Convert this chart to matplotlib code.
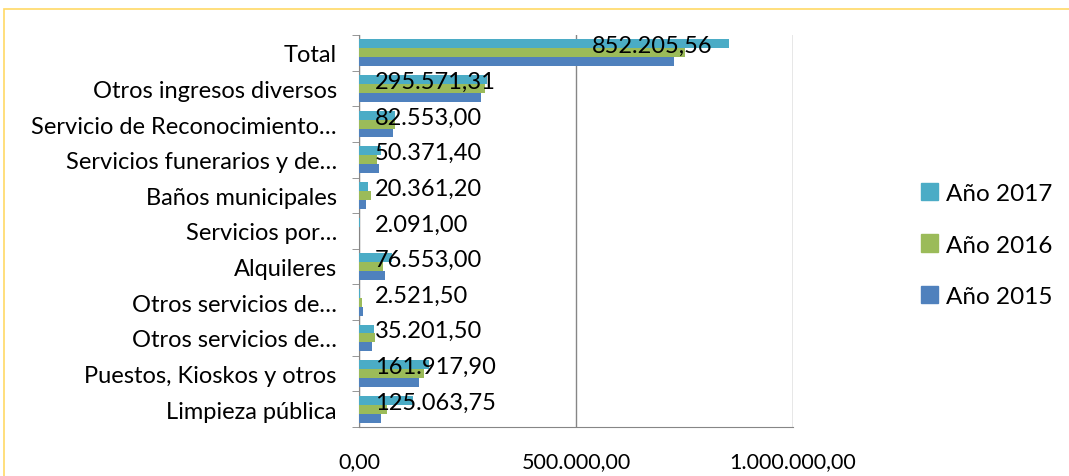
import matplotlib.pyplot as plt
import matplotlib.patches as mpatches
import numpy as np

categorias = ["Total", "Otros ingresos diversos", "Servicio de Reconocimiento…",
              "Servicios funerarios y de…", "Baños municipales", "Servicios por…",
              "Alquileres", "Otros servicios de…", "Otros servicios de…",
              "Puestos, Kioskos y otros", "Limpieza pública"]
anio_2017 = [852205.56, 295571.31, 82553.00, 50371.40, 20361.20, 2091.00,
             76553.00, 2521.50, 35201.50, 161917.90, 125063.75]
anio_2016 = [751000, 290000, 83000, 41000, 27000, 0, 56000, 7000, 37000, 150000, 65000]
anio_2015 = [726000, 281000, 79000, 46000, 17000, 0, 61000, 9000, 31000, 139000, 50000]
etiquetas_2017 = ["852.205,56", "295.571,31", "82.553,00", "50.371,40", "20.361,20", "2.091,00",
                  "76.553,00", "2.521,50", "35.201,50", "161.917,90", "125.063,75"]
xticks = [0, 500000, 1000000]
xtick_labels = ["0,00", "500.000,00", "1.000.000,00"]

c17, c16, c15 = "#4BACC6", "#9BBB59", "#4F81BD"
plt.rcParams['font.family'] = ['Lato', 'DejaVu Sans']

fig = plt.figure(figsize=(10.69, 4.77), dpi=100)
ax = fig.add_axes([359/1069, 1-428/477, (793-359)/1069, (428-36)/477])

y = np.arange(len(categorias))
h = 0.25
ax.barh(y - h, anio_2017, height=h, color=c17, label="Año 2017", zorder=3)
ax.barh(y, anio_2016, height=h, color=c16, label="Año 2016", zorder=3)
ax.barh(y + h, anio_2015, height=h, color=c15, label="Año 2015", zorder=3)

# etiquetas de 2017: dentro del extremo si caben, si no desde la base
for i, (v, t) in enumerate(zip(anio_2017, etiquetas_2017)):
    if v > 400000:
        ax.text(v - 38000, i - 0.2, t, ha='right', va='center', fontsize=17, zorder=4)
    else:
        ax.text(37000, i - 0.2, t, ha='left', va='center', fontsize=17, zorder=4)

ax.set_xlim(0, 1000000)
ax.set_ylim(len(categorias) - 0.5, -0.5)
ax.set_xticks(xticks)
ax.set_xticklabels(xtick_labels, fontsize=15.5)
ax.set_yticks(y)
ax.set_yticklabels(categorias, fontsize=17)
ax.set_yticks(np.arange(len(categorias) + 1) - 0.5, minor=True)
ax.tick_params(axis='y', which='major', length=0, pad=16)
ax.tick_params(axis='y', which='minor', length=5, color='#868686', direction='out')
ax.tick_params(axis='x', length=0, pad=17)
ax.grid(axis='x', color='#868686', linewidth=1, zorder=0)
for s in ['top', 'right']:
    ax.spines[s].set_visible(False)
ax.spines['left'].set_color('#868686')
ax.spines['bottom'].set_color('#868686')

handles = [mpatches.Patch(color=c17), mpatches.Patch(color=c16), mpatches.Patch(color=c15)]
fig.legend(handles, ["Año 2017", "Año 2016", "Año 2015"], loc='center left',
           bbox_to_anchor=(899/1069, 1-246/477), frameon=False, fontsize=17.5,
           handlelength=0.7, handleheight=0.7, handletextpad=0.35, labelspacing=1.25)

fig.add_artist(mpatches.Rectangle((4/1069, -0.1), 1.2, 1 - 10/477 + 0.1,
                                  transform=fig.transFigure, fill=False,
                                  edgecolor='#FFD966', linewidth=1.2))

fig.savefig("out.png", dpi=100)
